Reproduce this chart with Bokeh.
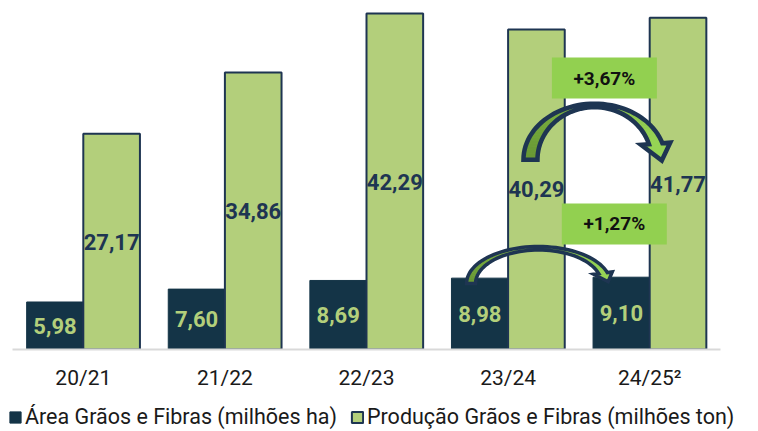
import numpy as np
from bokeh.plotting import figure
from bokeh.layouts import column
from bokeh.models import (ColumnDataSource, Range1d, Legend, LegendItem,
                          FixedTicker)
from bokeh.transform import dodge
from bokeh.core.properties import value
from bokeh.embed import file_html
from bokeh.resources import INLINE

# ---------------- data ----------------
safras = ["20/21", "21/22", "22/23", "23/24", "24/25²"]
area = [5.98, 7.60, 8.69, 8.98, 9.10]            # milhões ha
producao = [27.17, 34.86, 42.29, 40.29, 41.77]   # milhões ton
variacao_producao = "+3,67%"
variacao_area = "+1,27%"
legend_labels = ["Área Grãos e Fibras (milhões ha)",
                 "Produção Grãos e Fibras (milhões ton)"]

# ---------------- style ----------------
NAVY = "#143447"
NAVY_LINE = "#1e3552"
GREEN = "#b3cf7b"
BOX_GREEN = "#92d050"
TEXT = "#1a1a1a"
FONT = "Roboto"

W = 750
FRAME_H = 349
MB = 48
H1 = FRAME_H + MB
H2 = 34
PX_X = 708 / len(safras)          # pixels per category
PX_Y = 7.945                      # pixels per unit
X0 = -12 / PX_X
X1 = (W - 12) / PX_X
Y_MAX = FRAME_H / PX_Y

idx = [i + 0.5 for i in range(len(safras))]


def fmt(v):
    return f"{v:.2f}".replace(".", ",")


src = ColumnDataSource(dict(
    idx=idx,
    area=area,
    producao=producao,
    area_mid=[v / 2 for v in area],
    prod_mid=[v / 2 for v in producao],
    area_lbl=[fmt(v) for v in area],
    prod_lbl=[fmt(v) for v in producao],
))

p = figure(x_range=Range1d(X0, X1), y_range=Range1d(0, Y_MAX),
           width=W, height=H1, output_backend="svg", toolbar_location=None,
           y_axis_location=None, min_border_left=0, min_border_right=0,
           min_border_top=0, min_border_bottom=MB)
p.outline_line_color = None
p.xgrid.grid_line_color = None
p.ygrid.grid_line_color = None

bar_area = dict(fill_color=NAVY, line_color=NAVY, line_width=1)
bar_prod = dict(fill_color=GREEN, line_color=NAVY_LINE, line_width=2)

p.vbar(x=dodge("idx", -0.2), top="area", width=0.4, source=src, **bar_area)
p.vbar(x=dodge("idx", 0.2), top="producao", width=0.4, source=src, **bar_prod)

p.text(x=dodge("idx", -0.2), y="area_mid", text="area_lbl",
       source=src, text_align="center", text_baseline="middle",
       text_font=value(FONT), text_font_style="bold", text_font_size="22px",
       text_color=GREEN)
p.text(x=dodge("idx", 0.2), y="prod_mid", text="prod_lbl",
       source=src, text_align="center", text_baseline="middle",
       text_font=value(FONT), text_font_style="bold", text_font_size="22px",
       text_color=NAVY_LINE)


# ---------------- curved arrows ----------------
def draw_arrow(ax, ay, rxo, ryo, rxi, ryi, t_end, wing, tip, lw, n=48):
    t = np.linspace(np.pi, t_end, n)
    ox, oy = rxo * np.cos(t), ryo * np.sin(t)
    ix, iy = rxi * np.cos(t), ryi * np.sin(t)
    O = np.array([ox[-1], oy[-1]])
    I = np.array([ix[-1], iy[-1]])
    u = (O - I) / np.linalg.norm(O - I)
    d = np.array([(rxo + rxi) / 2 * np.sin(t_end), -(ryo + ryi) / 2 * np.cos(t_end)])
    d /= np.linalg.norm(d)
    M = (O + I) / 2
    ow, iw, tp = O + wing * u, I - wing * u, M + tip * d

    def X(a):
        return list(ax + np.asarray(a) / PX_X)

    def Y(a):
        return list(ay + np.asarray(a) / PX_Y)

    c0 = np.array([104, 152, 52])
    c1 = np.array([150, 212, 84])
    xs, ys, cols = [], [], []
    for k in range(n - 1):
        f = k / (n - 2)
        c = (c0 + (c1 - c0) * f).astype(int)
        xs.append(X([ox[k], ox[k + 1], ix[k + 1], ix[k]]))
        ys.append(Y([oy[k], oy[k + 1], iy[k + 1], iy[k]]))
        cols.append("#%02x%02x%02x" % tuple(c))
    xs.append(X([O[0], ow[0], tp[0], iw[0], I[0]]))
    ys.append(Y([O[1], ow[1], tp[1], iw[1], I[1]]))
    cols.append(cols[-1])
    p.patches(xs=xs, ys=ys, fill_color=cols, line_color=cols, line_width=0.8)

    px = list(ox) + [O[0], ow[0], tp[0], iw[0], I[0]] + list(ix[::-1])
    py = list(oy) + [O[1], ow[1], tp[1], iw[1], I[1]] + list(iy[::-1])
    p.patch(x=X(px), y=Y(py), fill_alpha=0, line_color=NAVY_LINE,
            line_width=lw, line_join="miter")


# produção arrow: green bar 23/24 -> green bar 24/25
draw_arrow(4.2 - 0.09, producao[3] * 0.593, 71, 56, 57, 52.5, 0.3, 8, 18, 4.5)
# área arrow: dark bar 23/24 -> dark bar 24/25
draw_arrow(3.8 - 0.085, area[3] * 0.925, 72, 37, 63, 33.5, 0.3, 5, 10, 3.5)

# ---------------- variation boxes ----------------
box_x = [4.18, 4.25]
box_y = [34.17, 15.8]
box_txt = [variacao_producao, variacao_area]
p.rect(x=box_x, y=box_y, width=105, height=41, width_units="screen",
       height_units="screen", fill_color=BOX_GREEN, line_color=None)
p.text(x=box_x, y=box_y, text=box_txt, text_align="center", text_baseline="middle",
       text_font=value(FONT), text_font_style="bold", text_font_size="19px",
       text_color="#111111")

# ---------------- axis ----------------
ax = p.xaxis[0]
ax.ticker = FixedTicker(ticks=idx)
ax.major_label_overrides = {float(x): s for x, s in zip(idx, safras)}
ax.bounds = (0, len(safras))
ax.axis_line_color = "#d9d9d9"
ax.axis_line_width = 2
ax.major_tick_line_color = None
ax.minor_tick_line_color = None
ax.major_tick_out = 0
ax.major_tick_in = 0
ax.major_label_standoff = 16
ax.major_label_text_font = FONT
ax.major_label_text_font_size = "21px"
ax.major_label_text_color = TEXT

# ---------------- legend (own strip below the chart) ----------------
pl = figure(width=W, height=H2, x_range=Range1d(0, 1), y_range=Range1d(0, 1),
            output_backend="svg", toolbar_location=None, x_axis_location=None,
            y_axis_location=None, min_border=0)
pl.outline_line_color = None
pl.xgrid.grid_line_color = None
pl.ygrid.grid_line_color = None
# legend proxies: zero-height bars lying outside this strip's visible range
lr_area = pl.vbar(x="area", top=0, width=0, source=src, **bar_area)
lr_prod = pl.vbar(x="producao", top=0, width=0, source=src, **bar_prod)
legend = Legend(items=[LegendItem(label=legend_labels[0], renderers=[lr_area]),
                       LegendItem(label=legend_labels[1], renderers=[lr_prod])],
                orientation="horizontal", location=(8, 2), margin=0, padding=0,
                spacing=13, glyph_width=14, glyph_height=14, label_standoff=3,
                label_height=20, label_text_font=FONT, label_text_font_size="21.5px",
                label_text_color=TEXT, label_text_baseline="middle",
                border_line_color=None, background_fill_alpha=0)
pl.add_layout(legend, "center")

layout = column(p, pl, spacing=0)
open("out.html", "w").write(file_html(layout, INLINE))
